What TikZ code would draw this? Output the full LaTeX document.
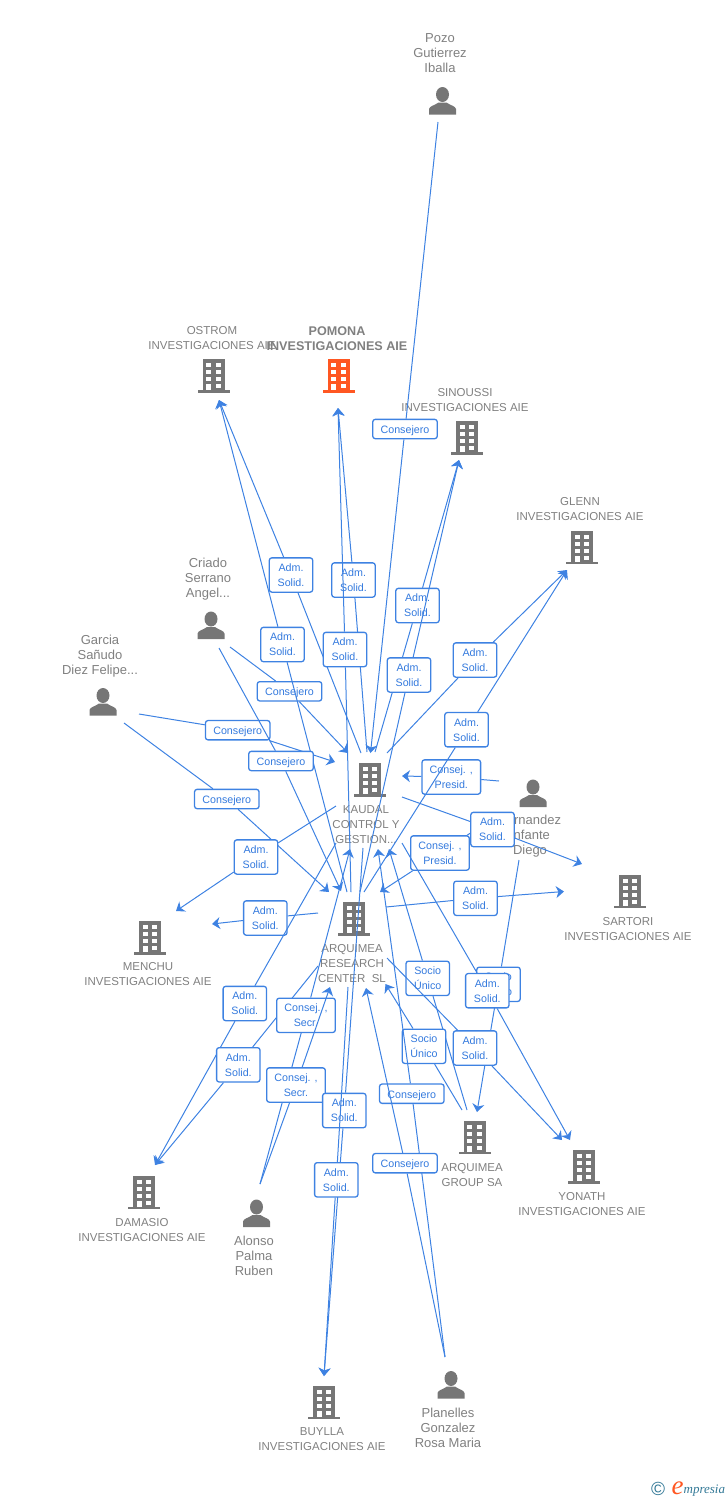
\documentclass[tikz,border=0pt]{standalone}
\usepackage{fontspec}
\setmainfont{Liberation Sans}
\newfontfamily\markfont{Liberation Serif}
\usetikzlibrary{arrows.meta}
\definecolor{MyBlue}{RGB}{62, 130, 226}
\definecolor{MyTextBlue}{RGB}{52, 122, 222}
\definecolor{MyGray}{RGB}{128, 128, 128}
\definecolor{MyIcon}{RGB}{118, 118, 118}
\definecolor{MyOrange}{RGB}{255, 87, 34}
\definecolor{MyTeal}{RGB}{50, 120, 150}
\tikzset{
  iconcolor/.store in=\iconcolor, iconcolor=MyIcon,
  building/.pic={
    \fill[\iconcolor] (-11,-16.5) rectangle (11,14.5);
    \fill[\iconcolor] (-16,14.5) rectangle (16,17);
    \foreach \row in {-12.5,-5.5,1.5,8.5} \fill[white] (2.2,\row) rectangle ++(5.2,4.2);
    \foreach \row in {-12.5,-5.5,1.5} \fill[white] (-7.4,\row) rectangle ++(5.2,4.2);
    \fill[white] (-7.4,8.5) rectangle (-2.2,14.5);
  },
  person/.pic={
    \fill[MyIcon] (0,-6.5) ellipse [x radius=6.5, y radius=7.5];
    \fill[MyIcon] (-13.5,13.5) -- (-13.5,8) .. controls (-13,5) and (-8,4.5) .. (-4,1.5) -- (4,1.5)
      .. controls (8,4.5) and (13,5) .. (13.5,8) -- (13.5,13.5) -- cycle;
  },
  firm/.style={align=center, inner sep=0pt, yshift=-1pt, text=MyGray, font=\fontsize{11.5}{15}\selectfont},
  mainfirm/.style={firm, font=\fontsize{12.6}{15}\selectfont\bfseries},
  who/.style={align=center, inner sep=0pt, text=MyGray, font=\fontsize{13}{15}\selectfont},
  tag/.style={draw=MyBlue, line width=1.3pt, rounded corners=2.5pt, fill=white, inner sep=0pt,
    align=center, text=MyTextBlue, font=\fontsize{10.7}{15}\selectfont},
  adm/.style={tag, minimum width=43.4pt, minimum height=34.3pt},
  cons/.style={tag, minimum width=64.5pt, minimum height=19.3pt, text height=9pt, text depth=0pt},
  pres/.style={tag, minimum width=58.6pt, minimum height=34.3pt},
  link/.style={MyBlue, line width=1pt},
  linkto/.style={link, -{Stealth[length=8pt, width=12pt, inset=2.5pt]}},
}
\begin{document}
\begin{tikzpicture}[x=1pt, y=-1pt]
\useasboundingbox (0,0) rectangle (728,1500);
% names and icons
\node[who] (pozo) at (440,53) {Pozo\\Gutierrez\\Iballa};
\pic at (442.5,101) {person};
\node[firm] (ostrom) at (212,337.5) {OSTROM\\INVESTIGACIONES AIE};
\pic at (213.5,375.5) {building};
\node[mainfirm] (pomona) at (337,337.5) {POMONA\\INVESTIGACIONES AIE};
\pic[iconcolor=MyOrange] at (338.5,375.5) {building};
\node[firm] (sinoussi) at (465,399.5) {SINOUSSI\\INVESTIGACIONES AIE};
\pic at (467,437.5) {building};
\node[firm] (glenn) at (580,508.5) {GLENN\\INVESTIGACIONES AIE};
\pic at (582,547) {building};
\node[who] (criado) at (208,579) {Criado\\Serrano\\Angel...};
\pic at (211,625.5) {person};
\node[who] (garcia) at (100,656) {Garcia\\Sañudo\\Diez Felipe...};
\pic at (103,702) {person};
\node[firm] (kaudal) at (366,824) {KAUDAL\\CONTROL Y\\GESTION...};
\pic at (370,779.5) {building};
\node[who] (hernandez) at (530,836) {Fernandez\\Infante\\Diego};
\pic at (533,793.5) {person};
\node[firm] (sartori) at (628,928.5) {SARTORI\\INVESTIGACIONES AIE};
\pic at (630,891) {building};
\node[firm] (research) at (352,963) {ARQUIMEA\\RESEARCH\\CENTER\ \ SL};
\pic at (354,918.5) {building};
\node[firm] (menchu) at (148,973.5) {MENCHU\\INVESTIGACIONES AIE};
\pic at (150,937.5) {building};
\node[firm] (damasio) at (142,1229.5) {DAMASIO\\INVESTIGACIONES AIE};
\pic at (144,1192) {building};
\node[who] (alonso) at (254,1256) {Alonso\\Palma\\Ruben};
\pic at (256.5,1213.5) {person};
\node[firm] (group) at (472,1174.5) {ARQUIMEA\\GROUP SA};
\pic at (474.5,1137) {building};
\node[firm] (yonath) at (582,1203.5) {YONATH\\INVESTIGACIONES AIE};
\pic at (584,1166.5) {building};
\node[firm] (buylla) at (322,1438.5) {BUYLLA\\INVESTIGACIONES AIE};
\pic at (324,1402) {building};
\node[who] (planelles) at (448,1428) {Planelles\\Gonzalez\\Rosa Maria};
\pic at (451,1385) {person};
% free ends
\coordinate (pozoS) at (438,122);
\coordinate (criadoA) at (230,647);
\coordinate (criadoB) at (219,648);
\coordinate (garciaA) at (139,714);
\coordinate (garciaB) at (124,723);
\coordinate (hernA) at (499,781);
\coordinate (hernB) at (498,815);
\coordinate (hernC) at (519,860);
\coordinate (alonsoS) at (260,1184);
\coordinate (planS) at (445,1357);
\coordinate (groupA) at (467,1110);
\coordinate (groupB) at (462,1110);
\coordinate (kaudalA) at (361,753);
\coordinate (kaudalB) at (367,752);
\coordinate (kaudalC) at (375,752);
\coordinate (kaudalD) at (387,753);
\coordinate (kaudalE) at (336,806);
\coordinate (kaudalF) at (336,843);
\coordinate (kaudalG) at (402,797);
\coordinate (kaudalH) at (402,843);
\coordinate (kaudalJ) at (363,848);
\coordinate (resA) at (347,892);
\coordinate (resB) at (351,892);
\coordinate (resC) at (360,892);
\coordinate (resD) at (364,892);
\coordinate (resE) at (318,913);
\coordinate (resF) at (386,907);
\coordinate (resG) at (318,966);
\coordinate (resH) at (387,958);
\coordinate (resJ) at (348,987);
% arrow ends
\coordinate (toOstrom) at (219,400);
\coordinate (toPomona) at (338,408);
\coordinate (toSinoussi) at (459,460);
\coordinate (toGlenn) at (567,570);
\coordinate (toKaudalA) at (348,753);
\coordinate (toKaudalB) at (335,762);
\coordinate (toKaudalC) at (370.5,753);
\coordinate (toKaudalD) at (402,776);
\coordinate (toKaudalE) at (350,849);
\coordinate (toKaudalF) at (378,849);
\coordinate (toKaudalG) at (389,849);
\coordinate (toResA) at (329,892);
\coordinate (toResB) at (341,891);
\coordinate (toResC) at (380,892);
\coordinate (toResD) at (330,987);
\coordinate (toResE) at (366,988);
\coordinate (toResF) at (385.5,984);
\coordinate (toMenchuA) at (176,911);
\coordinate (toMenchuB) at (212,924);
\coordinate (toSartoriA) at (582,864);
\coordinate (toSartoriB) at (564,891.5);
\coordinate (toDamasio) at (155,1165);
\coordinate (toYonathA) at (570,1140);
\coordinate (toYonathB) at (562,1140);
\coordinate (toGroup) at (477,1112);
\coordinate (toBuylla) at (324,1376);
% tags with their connectors
\node[cons] (consPozo) at (405,429) {Consejero};
\draw[link] (pozoS) -- (consPozo);
\draw[linkto] (consPozo) -- (toKaudalC);
\node[cons] (consCriadoA) at (289.5,691.3) {Consejero};
\draw[link] (criadoA) -- (consCriadoA);
\draw[linkto] (consCriadoA) -- (toKaudalA);
\node[adm] (admOstromA) at (291,575) {Adm.\\Solid.};
\draw[link] (kaudalA) -- (admOstromA);
\draw[linkto] (admOstromA) -- (toOstrom);
\node[adm] (admPomonaA) at (353.5,580) {Adm.\\Solid.};
\draw[link] (kaudalB) -- (admPomonaA);
\draw[linkto] (admPomonaA) -- (toPomona);
\node[adm] (admSinoussiA) at (417.5,605.5) {Adm.\\Solid.};
\draw[link] (kaudalC) -- (admSinoussiA);
\draw[linkto] (admSinoussiA) -- (toSinoussi);
\node[adm] (admGlennA) at (475,660) {Adm.\\Solid.};
\draw[link] (kaudalD) -- (admGlennA);
\draw[linkto] (admGlennA) -- (toGlenn);
\node[adm] (admOstromB) at (282.5,644.5) {Adm.\\Solid.};
\draw[link] (resA) -- (admOstromB);
\draw[linkto] (admOstromB) -- (toOstrom);
\node[adm] (admPomonaB) at (345,649.5) {Adm.\\Solid.};
\draw[link] (resB) -- (admPomonaB);
\draw[linkto] (admPomonaB) -- (toPomona);
\node[adm] (admSinoussiB) at (409,675) {Adm.\\Solid.};
\draw[link] (resC) -- (admSinoussiB);
\draw[linkto] (admSinoussiB) -- (toSinoussi);
\node[pres] (presKaudal) at (451.3,777) {Consej. ,\\Presid.};
\draw[link] (hernA) -- (presKaudal);
\draw[linkto] (presKaudal) -- (toKaudalD);
\node[adm] (admGlennB) at (466.5,729.7) {Adm.\\Solid.};
\draw[link] (resD) -- (admGlennB);
\draw[linkto] (admGlennB) -- (toGlenn);
\node[cons] (consGarciaA) at (237.7,730.2) {Consejero};
\draw[link] (garciaA) -- (consGarciaA);
\draw[linkto] (consGarciaA) -- (toKaudalB);
\node[cons] (consGarciaB) at (226.8,799) {Consejero};
\draw[link] (garciaB) -- (consGarciaB);
\draw[linkto] (consGarciaB) -- (toResA);
\node[cons] (consCriadoB) at (281,761) {Consejero};
\draw[link] (criadoB) -- (consCriadoB);
\draw[linkto] (consCriadoB) -- (toResB);
\node[adm] (admMenchuA) at (256,857) {Adm.\\Solid.};
\draw[link] (kaudalE) -- (admMenchuA);
\draw[linkto] (admMenchuA) -- (toMenchuA);
\node[adm] (admMenchuB) at (265.3,918) {Adm.\\Solid.};
\draw[link] (resE) -- (admMenchuB);
\draw[linkto] (admMenchuB) -- (toMenchuB);
\node[pres] (presRes) at (440,853) {Consej. ,\\Presid.};
\draw[link] (hernB) -- (presRes);
\draw[linkto] (presRes) -- (toResC);
\node[adm] (admSartoriA) at (492.5,829.5) {Adm.\\Solid.};
\draw[link] (kaudalG) -- (admSartoriA);
\draw[linkto] (admSartoriA) -- (toSartoriA);
\node[adm] (admSartoriB) at (475.5,898.3) {Adm.\\Solid.};
\draw[link] (resF) -- (admSartoriB);
\draw[linkto] (admSartoriB) -- (toSartoriB);
\node[adm] (socioGroup) at (498.5,984.3) {Socio\\Único};
\draw[link] (hernC) -- (socioGroup);
\draw[linkto] (socioGroup) -- (toGroup);
\node[adm] (socioKaudal) at (427.7,978.3) {Socio\\Único};
\draw[link] (groupA) -- (socioKaudal);
\draw[linkto] (socioKaudal) -- (toKaudalG);
\node[adm] (admYonathA) at (487.3,990.7) {Adm.\\Solid.};
\draw[link] (kaudalH) -- (admYonathA);
\draw[linkto] (admYonathA) -- (toYonathA);
\node[adm] (admYonathB) at (475,1048) {Adm.\\Solid.};
\draw[link] (resH) -- (admYonathB);
\draw[linkto] (admYonathB) -- (toYonathB);
\node[adm] (socioRes) at (424,1046.3) {Socio\\Único};
\draw[link] (groupB) -- (socioRes);
\draw[linkto] (socioRes) -- (toResF);
\node[adm] (admDamasioA) at (244.8,1003.5) {Adm.\\Solid.};
\draw[link] (kaudalF) -- (admDamasioA);
\draw[linkto] (admDamasioA) -- (toDamasio);
\node[adm] (admDamasioB) at (238.3,1064.8) {Adm.\\Solid.};
\draw[link] (resG) -- (admDamasioB);
\draw[linkto] (admDamasioB) -- (toDamasio);
\node[pres] (secrKaudal) at (306,1015.3) {Consej. ,\\Secr.};
\draw[link] (alonsoS) -- (secrKaudal);
\draw[linkto] (secrKaudal) -- (toKaudalE);
\node[pres] (secrRes) at (296,1085) {Consej. ,\\Secr.};
\draw[link] (alonsoS) -- (secrRes);
\draw[linkto] (secrRes) -- (toResD);
\node[cons] (consPlanA) at (411.8,1093.7) {Consejero};
\draw[link] (planS) -- (consPlanA);
\draw[linkto] (consPlanA) -- (toKaudalF);
\node[cons] (consPlanB) at (405,1163.2) {Consejero};
\draw[link] (planS) -- (consPlanB);
\draw[linkto] (consPlanB) -- (toResE);
\node[adm] (admBuyllaA) at (344.3,1110.5) {Adm.\\Solid.};
\draw[link] (kaudalJ) -- (admBuyllaA);
\draw[linkto] (admBuyllaA) -- (toBuylla);
\node[adm] (admBuyllaB) at (336.3,1179.8) {Adm.\\Solid.};
\draw[link] (resJ) -- (admBuyllaB);
\draw[linkto] (admBuyllaB) -- (toBuylla);
% watermark
\node[inner sep=0pt, text=MyTeal, font=\fontsize{19}{19}\selectfont] (markC) at (658,1489) {©};
\node[inner sep=0pt, text=MyOrange, font=\markfont\itshape\fontsize{27}{27}\selectfont] (markE) at (677.5,1488) {e};
\node[inner sep=0pt, text=MyTeal, font=\markfont\itshape\fontsize{13}{13}\selectfont, anchor=base west] (markT) at (683.5,1493) {mpresia};
\end{tikzpicture}
\end{document}
